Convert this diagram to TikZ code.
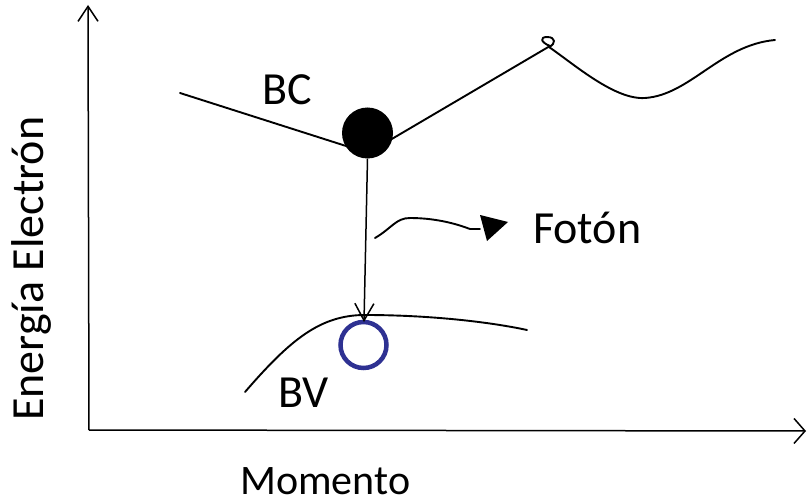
\documentclass[tikz,border=0pt]{standalone}
\usepackage{fontspec}
\setmainfont{Carlito}
\usetikzlibrary{arrows.meta}
\definecolor{holeblue}{RGB}{46,49,146}
\begin{document}
\begin{tikzpicture}[x=1pt,y=-1pt,
  curve/.style={line width=1.9pt,line join=round,line cap=round},
  lbl/.style={font=\fontsize{46}{48}\selectfont,inner sep=0pt,anchor=base west}]
\useasboundingbox (0,0) rectangle (807,503);
% axes
\coordinate (O) at (89,430);
\coordinate (ytop) at (88,5);
\coordinate (xend) at (806,431);
\draw[line width=1.5pt,-{Straight Barb[length=15pt,width=20pt,line width=1.5pt]}] (O) -- (ytop);
\draw[line width=1.5pt,-{Straight Barb[length=11pt,width=25pt,line width=1.5pt]}] (O) -- (xend);
% conduction band
\node[circle,fill=black,minimum size=51pt,inner sep=0pt] (e) at (367.5,133) {};
\coordinate (bcL) at (180,93);
\coordinate (bcM) at (368,153);
\draw[curve] (bcL) -- (bcM) -- (550,46)
  .. controls (540,42) and (540,37) .. (547,37)
  .. controls (556,37) and (556,44) .. (549,47)
  .. controls (575,65) and (615,100) .. (645,98)
  .. controls (690,95) and (720,45) .. (775,40);
% valence band
\coordinate (bvL) at (245,392);
\coordinate (bvR) at (527,330);
\draw[curve] (bvL) .. controls (290,340) and (320,315) .. (365,315)
  .. controls (430,315) and (490,322) .. (bvR);
\node[circle,draw=holeblue,line width=4.5pt,minimum size=46pt,inner sep=0pt] (h) at (363.5,345) {};
% transition arrow
\coordinate (tip) at (364,322);
\draw[line width=1.5pt,-{Straight Barb[length=17pt,width=19pt,line width=1.5pt]}] (e.south) -- (tip);
% photon
\coordinate (ph0) at (375,238);
\coordinate (ph1) at (480,229);
\coordinate (phT) at (508,222);
\draw[curve] (ph0) .. controls (392,228) and (396,218) .. (410,218)
  .. controls (440,218) and (462,226) .. (470,229) -- (ph1);
\fill (phT) -- (480,215) -- (487,241) -- cycle;
% labels
\node[lbl] (BC) at (262,105) {BC};
\node[lbl] (BV) at (278,407) {BV};
\node[lbl] (Foton) at (533,243) {Fotón};
\node[lbl,font=\fontsize{42}{44}\selectfont,text depth=0pt] (Mom) at (240,494) {Momento};
\node[lbl,rotate=90] (En) at (43,421) {Energía Electrón};
\end{tikzpicture}
\end{document}
